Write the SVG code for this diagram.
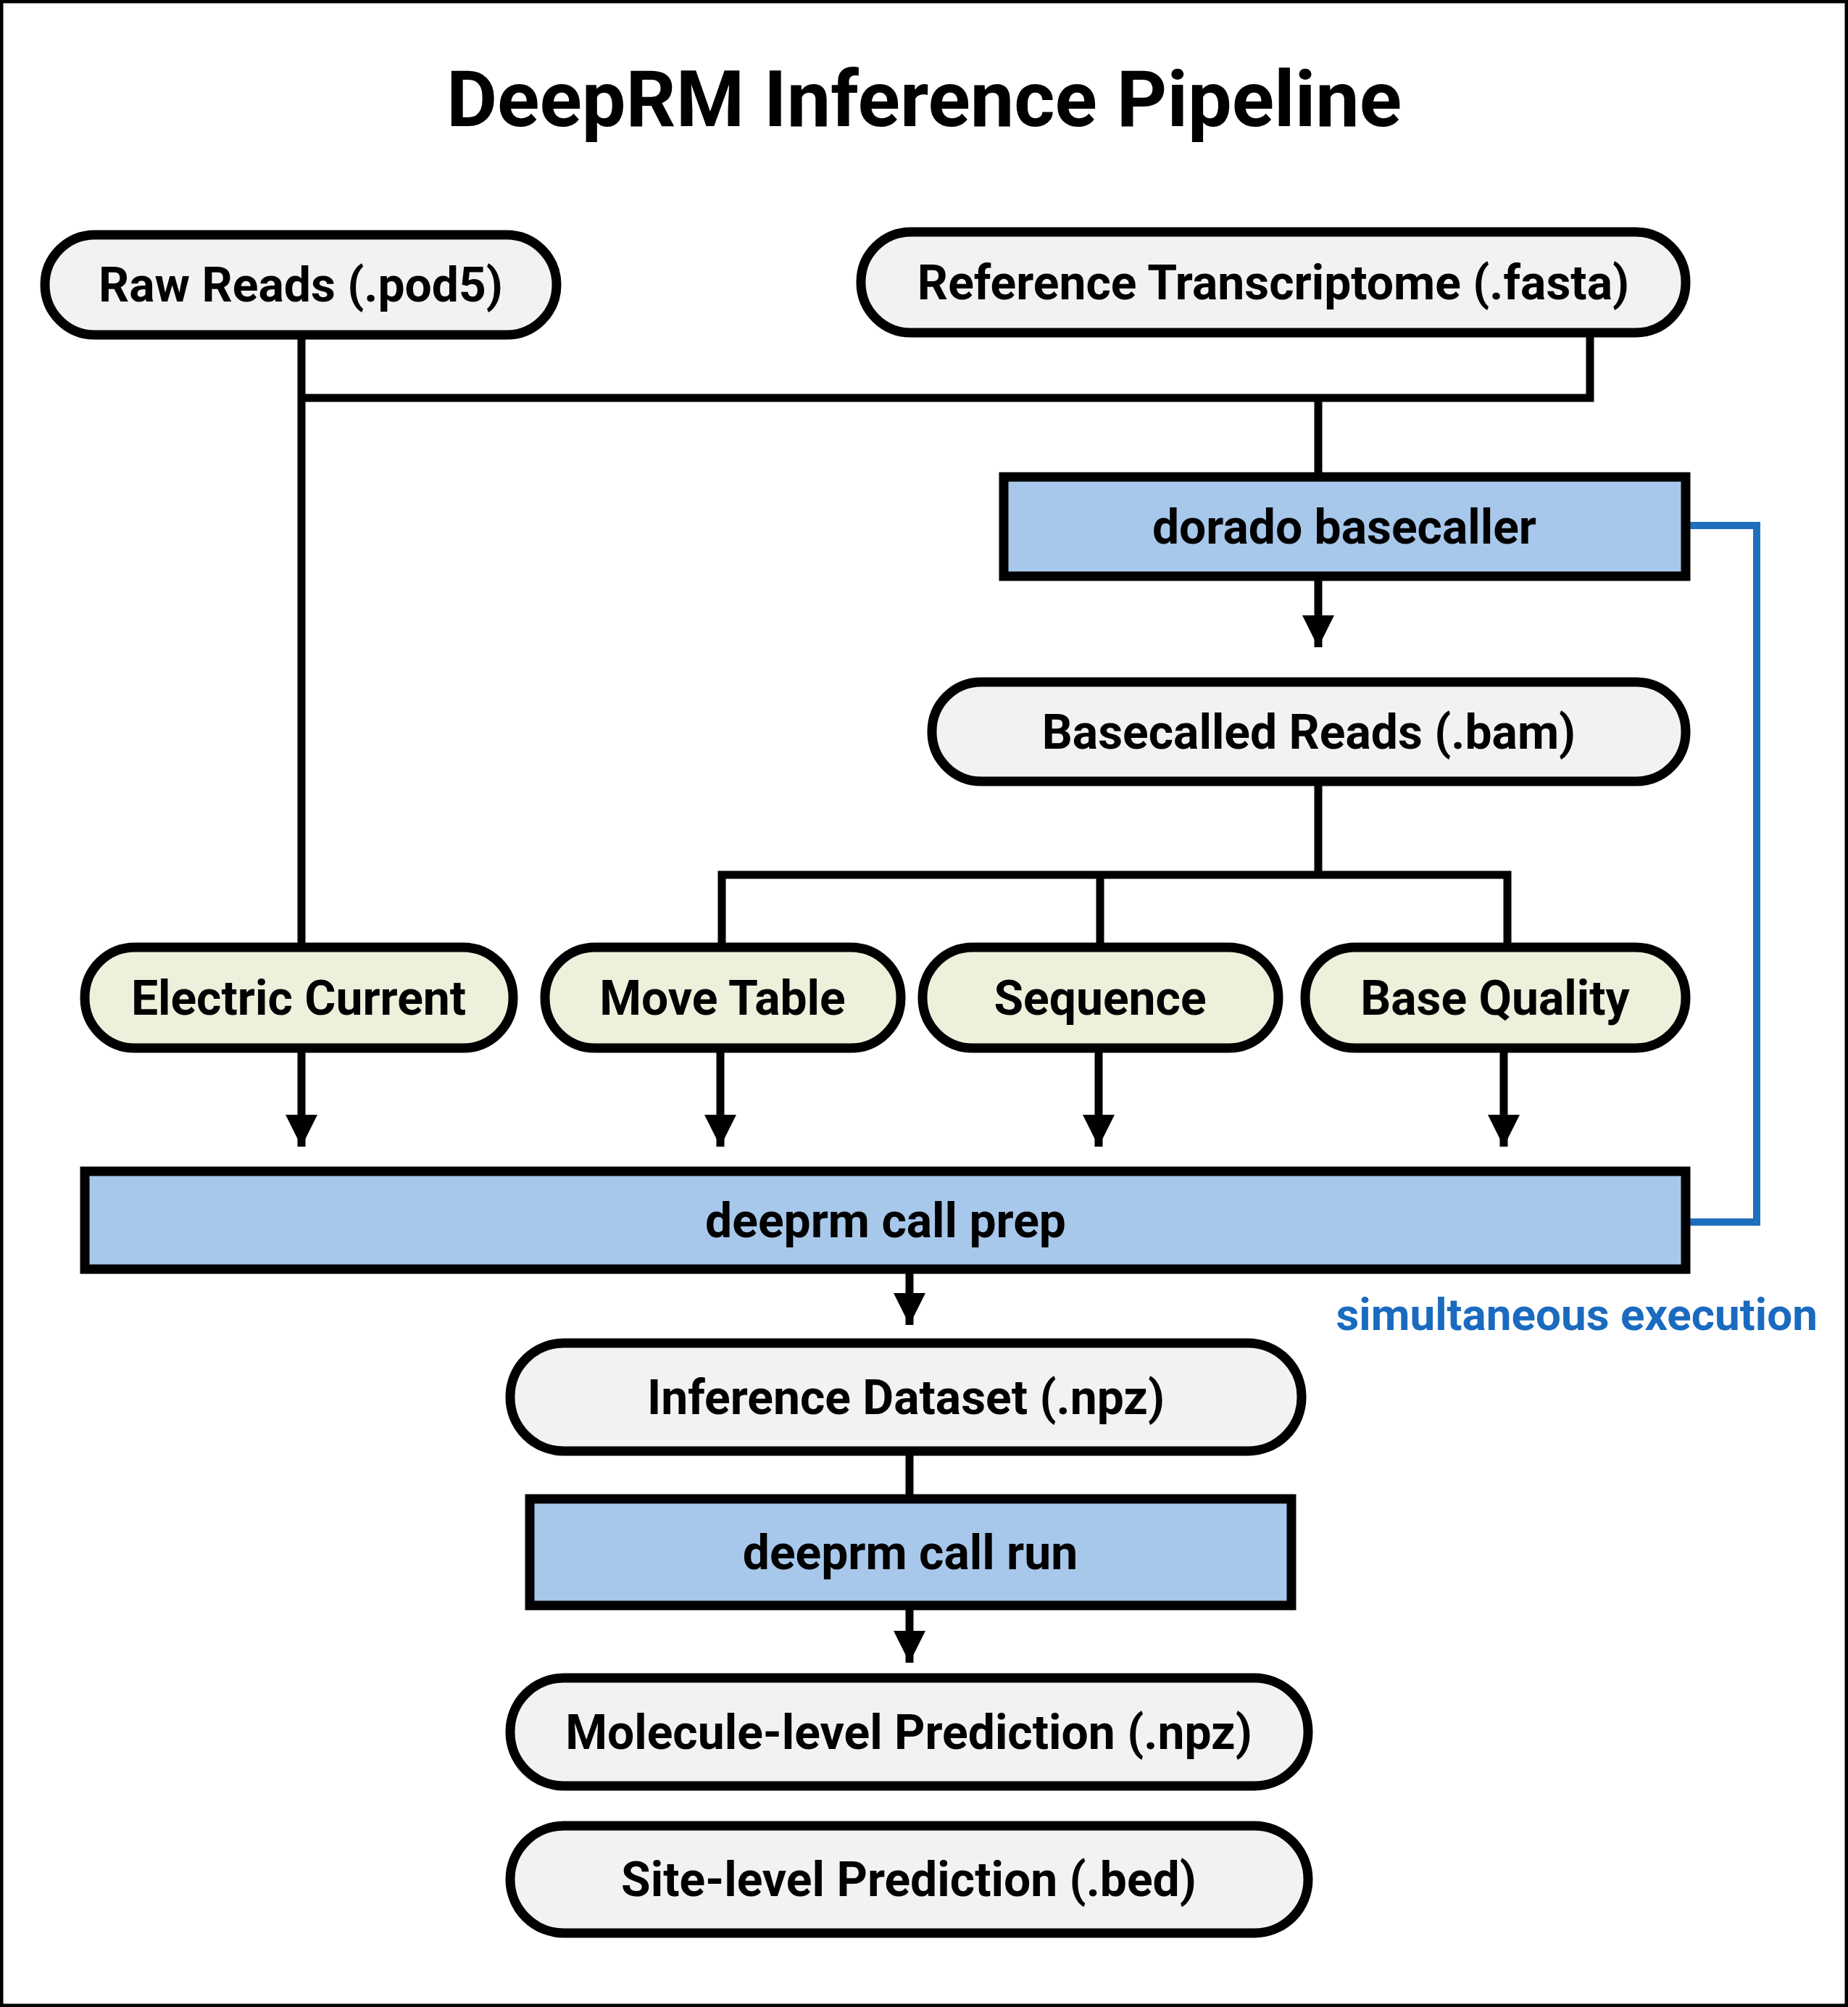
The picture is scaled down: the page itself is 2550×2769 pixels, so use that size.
<svg xmlns="http://www.w3.org/2000/svg" width="2550" height="2769" viewBox="0 0 2550 2769">
<defs>
<style>
.pill{fill:#f2f2f2;stroke:#000;stroke-width:13}
.feat{fill:#edf1dc;stroke:#000;stroke-width:13}
.box{fill:#a7c8eb;stroke:#000;stroke-width:13}
.t{font-family:Roboto,"Liberation Sans",sans-serif;font-weight:bold;font-size:66px;text-anchor:middle;dominant-baseline:central;fill:#000}
.ln{fill:none;stroke:#000;stroke-width:11}
</style>
<marker id="ah" viewBox="0 0 10 10" refX="10" refY="5" markerWidth="4.5" markerHeight="4" markerUnits="strokeWidth" orient="auto"><path d="M0,0 L10,5 L0,10 z" fill="#000"/></marker>
</defs>
<rect x="2" y="2" width="2546" height="2765" fill="#fff" stroke="#000" stroke-width="5"/>
<text x="1275" y="137" class="t" style="font-size:108px">DeepRM Inference Pipeline</text>
<g id="connectors">
<path class="ln" d="M416,462 V1307"/>
<path class="ln" d="M2194,459 V549 H416"/>
<path class="ln" d="M1819,549 V658"/>
<path class="ln" d="M1819,795 V893" marker-end="url(#ah)"/>
<path class="ln" d="M1819,1078 V1207 M996,1307 V1207 H2080 V1307 M1518,1207 V1307"/>
<path class="ln" d="M416,1446 V1582" marker-end="url(#ah)"/>
<path class="ln" d="M994,1446 V1582" marker-end="url(#ah)"/>
<path class="ln" d="M1516,1446 V1582" marker-end="url(#ah)"/>
<path class="ln" d="M2075,1446 V1582" marker-end="url(#ah)"/>
<path class="ln" d="M1255,1751 V1828" marker-end="url(#ah)"/>
<path class="ln" d="M1255,2002 V2068"/>
<path class="ln" d="M1255,2215 V2294" marker-end="url(#ah)"/>
<path d="M2326,725 H2424 V1686 H2326" fill="none" stroke="#1f6fbf" stroke-width="10"/>
</g>
<text x="2508" y="1813" style="font-family:Roboto,'Liberation Sans',sans-serif;font-weight:bold;font-size:62px;text-anchor:end;dominant-baseline:central;fill:#1a6bbf">simultaneous execution</text>
<g id="raw"><rect class="pill" x="62" y="324" width="706" height="138" rx="69"/><text class="t" x="415" y="393">Raw Reads (.pod5)</text></g>
<g id="ref"><rect class="pill" x="1188" y="320" width="1138" height="139" rx="69"/><text class="t" x="1757" y="390">Reference Transcriptome (.fasta)</text></g>
<g id="dorado"><rect class="box" x="1385" y="658" width="941" height="137"/><text class="t" x="1855" y="727">dorado basecaller</text></g>
<g id="bam"><rect class="pill" x="1286" y="941" width="1040" height="137" rx="68"/><text class="t" x="1806" y="1010">Basecalled Reads (.bam)</text></g>
<g id="ec"><rect class="feat" x="117" y="1307" width="591" height="139" rx="69"/><text class="t" x="412" y="1377">Electric Current</text></g>
<g id="mt"><rect class="feat" x="752" y="1307" width="491" height="139" rx="69"/><text class="t" x="997" y="1377">Move Table</text></g>
<g id="seq"><rect class="feat" x="1273" y="1307" width="491" height="139" rx="69"/><text class="t" x="1518" y="1377">Sequence</text></g>
<g id="bq"><rect class="feat" x="1801" y="1307" width="525" height="139" rx="69"/><text class="t" x="2063" y="1377">Base Quality</text></g>
<g id="prep"><rect class="box" x="117" y="1616" width="2209" height="135"/><text class="t" x="1222" y="1684">deeprm call prep</text></g>
<g id="ds"><rect class="pill" x="704" y="1853" width="1092" height="149" rx="74"/><text class="t" x="1250" y="1928">Inference Dataset (.npz)</text></g>
<g id="run"><rect class="box" x="731" y="2068" width="1051" height="147"/><text class="t" x="1256" y="2142">deeprm call run</text></g>
<g id="mol"><rect class="pill" x="704" y="2315" width="1101" height="149" rx="74"/><text class="t" x="1254" y="2390">Molecule-level Prediction (.npz)</text></g>
<g id="site"><rect class="pill" x="704" y="2519" width="1101" height="148" rx="74"/><text class="t" x="1254" y="2593">Site-level Prediction (.bed)</text></g>
</svg>
